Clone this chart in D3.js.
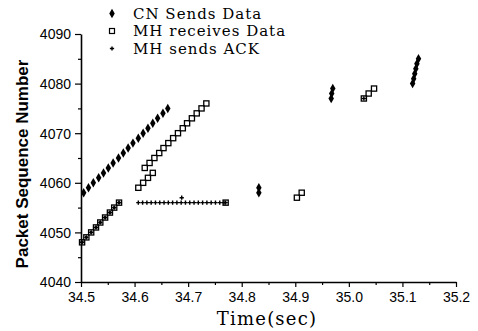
<!DOCTYPE html>
<html><head><meta charset="utf-8">
<script src="https://cdn.jsdelivr.net/npm/d3@7"></script>
<style>body{margin:0;background:#fff}svg{display:block}</style>
</head><body><div id="c"></div>
<script>
// Data (time in sec, packet sequence number)
const cnTimes = [34.505,34.514,34.523,34.533,34.542,34.551,34.560,34.570,34.579,34.588,34.597,34.607,34.616,34.625,34.634,34.643,34.653,34.662,
                 34.832,34.832,
                 34.967,34.968,34.970,
                 35.119,35.121,35.123,35.125,35.127,35.130];
const cnSeq   = [4058,4059,4060,4061,4062,4063,4064,4065,4066,4067,4068,4069,4070,4071,4072,4073,4074,4075,
                 4058,4059,
                 4077,4078,4079,
                 4080,4081,4082,4083,4084,4085];
const rxTimes = [34.502,34.510,34.519,34.528,34.536,34.545,34.554,34.562,34.571,
                 34.607,34.616,34.625,34.634,
                 34.619,34.628,34.637,34.646,34.654,34.663,34.672,34.681,34.690,34.698,34.707,34.716,34.725,34.734,
                 34.770,
                 34.903,34.912,
                 35.028,35.037,35.047];
const rxSeq   = [4048,4049,4050,4051,4052,4053,4054,4055,4056,
                 4059,4060,4061,4062,
                 4063,4064,4065,4066,4067,4068,4069,4070,4071,4072,4073,4074,4075,4076,
                 4056,
                 4057,4058,
                 4077,4078,4079];
const ackTimes = [34.502,34.510,34.519,34.528,34.536,34.545,34.554,34.562,34.571,
                  34.607,34.615,34.623,34.631,34.639,34.647,34.655,34.663,34.671,34.679,34.687,34.695,34.703,34.711,34.719,34.727,34.735,34.743,34.751,34.759,34.767,
                  34.688,34.770,35.028];
const ackSeq   = [4048,4049,4050,4051,4052,4053,4054,4055,4056,
                  4056,4056,4056,4056,4056,4056,4056,4056,4056,4056,4056,4056,4056,4056,4056,4056,4056,4056,4056,4056,4056,
                  4057,4056,4077];
const xTicks = [34.5,34.6,34.7,34.8,34.9,35.0,35.1,35.2];
const yTicks = [4040,4050,4060,4070,4080,4090];
const legendLabels = ["CN Sends Data","MH receives Data","MH sends ACK"];

const W=478,H=331;
const svg=d3.select("#c").append("svg").attr("width",W).attr("height",H);
const x=d3.scaleLinear().domain([34.5,35.2]).range([81,456]);
const y=d3.scaleLinear().domain([4040,4090]).range([282,34]);

// axes
const xAxis=d3.axisBottom(x).tickValues(xTicks).tickFormat(d3.format(".1f")).tickSize(5).tickSizeOuter(0);
const gx=svg.append("g").attr("transform","translate(0,282)").call(xAxis);
const xMinor=d3.axisBottom(x).tickValues(d3.range(0,7).map(i=>34.55+i*0.1)).tickFormat("").tickSize(3).tickSizeOuter(0);
svg.append("g").attr("transform","translate(0,282)").call(xMinor).select(".domain").remove();
const yAxis=d3.axisLeft(y).tickValues(yTicks).tickFormat(d3.format("d")).tickSize(6).tickSizeOuter(0);
const gy=svg.append("g").attr("transform","translate(81,0)").call(yAxis);
const yMinor=d3.axisLeft(y).tickValues([4045,4055,4065,4075,4085]).tickFormat("").tickSize(3).tickSizeOuter(0);
svg.append("g").attr("transform","translate(81,0)").call(yMinor).select(".domain").remove();
svg.selectAll(".domain").attr("stroke","#000").attr("stroke-width",1.6);
svg.selectAll(".tick line").attr("stroke","#000").attr("stroke-width",1.2);
gx.selectAll(".tick text").attr("font-family","Liberation Sans, Arial, sans-serif").attr("font-size",14).attr("dy","0.85em").attr("fill","#000");
gy.selectAll(".tick text").attr("font-family","Liberation Sans, Arial, sans-serif").attr("font-size",14).attr("x",-10).attr("dy","0.35em").attr("fill","#000");

// axis titles
svg.append("text").attr("x",267).attr("y",325).attr("text-anchor","middle")
  .attr("font-family","DejaVu Serif, serif").attr("font-size",18).attr("letter-spacing",1.2).text("Time(sec)");
svg.append("text").attr("transform","translate(28,164) rotate(-90)").attr("text-anchor","middle")
  .attr("font-family","Liberation Sans, Arial, sans-serif").attr("font-weight","bold").attr("font-size",17).text("Packet Sequence Number");

// markers
const diamond=d3.symbol().type(d3.symbolDiamond).size(26);
const cross=d3.symbol().type(d3.symbolCross).size(10);
const plot=svg.append("g");
plot.selectAll(".ack").data(d3.range(ackTimes.length)).join("path")
  .attr("d",cross).attr("transform",i=>`translate(${x(ackTimes[i])},${y(ackSeq[i])})`).attr("fill","#000");
plot.selectAll(".rx").data(d3.range(rxTimes.length)).join("rect")
  .attr("x",i=>x(rxTimes[i])-2.6).attr("y",i=>y(rxSeq[i])-2.6).attr("width",5.2).attr("height",5.2)
  .attr("fill","none").attr("stroke","#000").attr("stroke-width",1.3);
plot.selectAll(".ack2").data(d3.range(9)).join("path")
  .attr("d",d3.symbol().type(d3.symbolSquare).size(7)).attr("transform",i=>`translate(${x(ackTimes[i])},${y(ackSeq[i])})`).attr("fill","#000");
plot.selectAll(".cn").data(d3.range(cnTimes.length)).join("path")
  .attr("d",diamond).attr("transform",i=>`translate(${x(cnTimes[i])},${y(cnSeq[i])})`).attr("fill","#000");

// legend
const lg=svg.append("g");
const ly=[13.5,31,48.5];
lg.append("path").attr("d",diamond).attr("transform",`translate(112,${ly[0]})`).attr("fill","#000");
lg.append("rect").attr("x",109.5).attr("y",ly[1]-2.5).attr("width",5).attr("height",5).attr("fill","none").attr("stroke","#000").attr("stroke-width",1.2);
lg.append("path").attr("d",cross).attr("transform",`translate(112,${ly[2]})`).attr("fill","#000");
legendLabels.forEach((t,i)=>{
  lg.append("text").attr("x",133).attr("y",ly[i]).attr("dy","0.35em")
    .attr("font-family","DejaVu Serif, serif").attr("font-size",15).attr("letter-spacing",1).text(t);
});
</script></body></html>
